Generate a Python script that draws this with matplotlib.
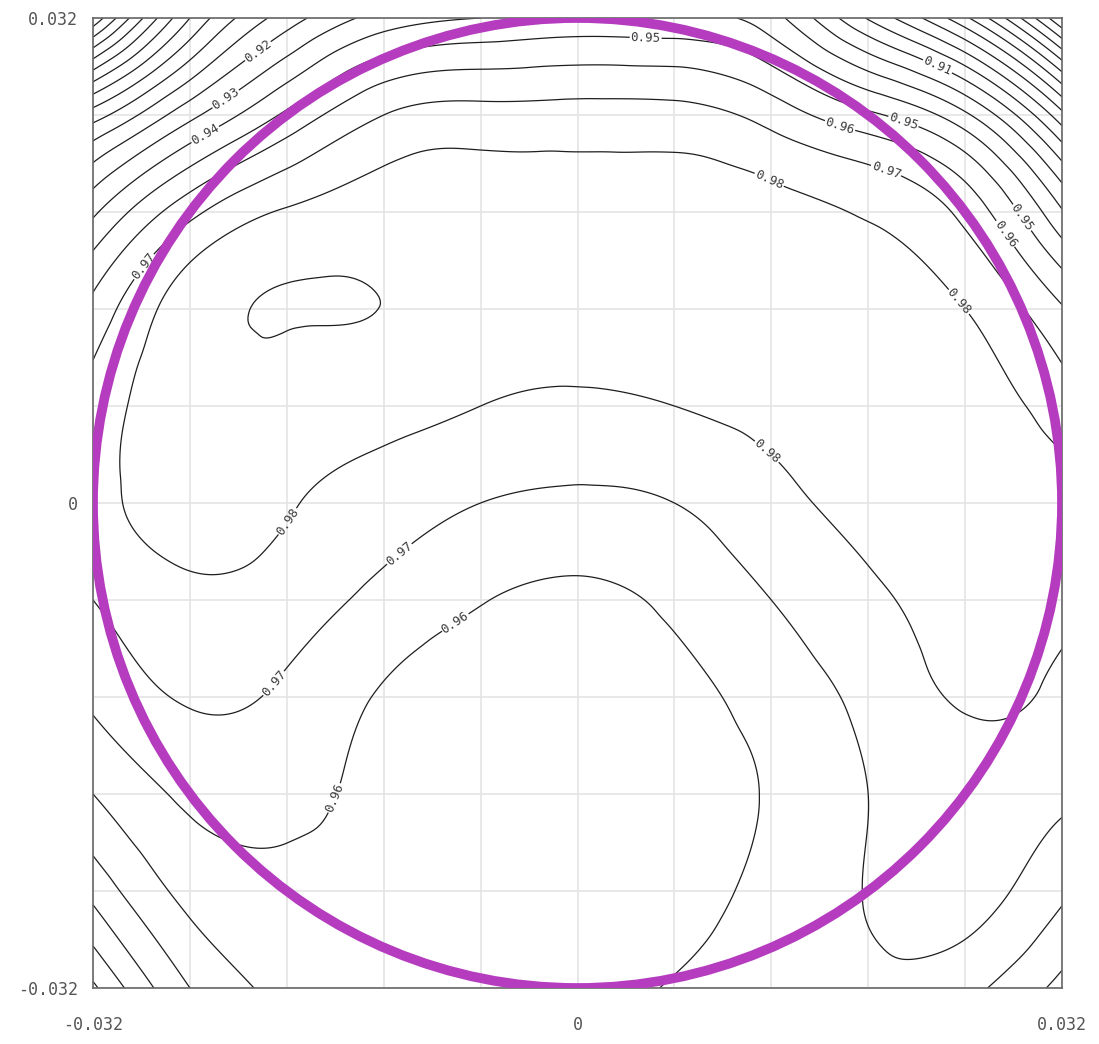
import numpy as np
import matplotlib
matplotlib.use("Agg")
import matplotlib.pyplot as plt
import matplotlib.tri as mtri
from matplotlib.patches import Circle

# sampling nodes, same spacing as the plot grid (0.0064)
node_x = np.linspace(-0.032, 0.032, 11)
node_y = np.linspace(0.032, -0.032, 11)   # top row first

# field values at the nodes, one list per row, top (y=+0.032) to bottom
row_p5 = [0.812, 0.880, 0.915, 0.934, 0.940, 0.943, 0.942, 0.934, 0.899, 0.862, 0.800]
row_p4 = [0.895, 0.927, 0.952, 0.970, 0.9735, 0.9738, 0.9735, 0.966, 0.952, 0.932, 0.883]
row_p3 = [0.938, 0.967, 0.981, 0.985, 0.9855, 0.985, 0.9845, 0.9835, 0.979, 0.967, 0.931]
row_p2 = [0.963, 0.9855, 0.9904, 0.9899, 0.987, 0.986, 0.985, 0.984, 0.983, 0.980, 0.961]
row_p1 = [0.974, 0.987, 0.9869, 0.984, 0.980, 0.978, 0.980, 0.982, 0.984, 0.985, 0.975]
row_0 = [0.976, 0.985, 0.981, 0.975, 0.970, 0.968, 0.970, 0.977, 0.983, 0.985, 0.983]
row_m1 = [0.970, 0.9775, 0.975, 0.967, 0.9605, 0.958, 0.962, 0.970, 0.978, 0.983, 0.982]
row_m2 = [0.962, 0.971, 0.968, 0.959, 0.955, 0.955, 0.957, 0.964, 0.973, 0.981, 0.978]
row_m3 = [0.950, 0.962, 0.963, 0.957, 0.954, 0.953, 0.955, 0.961, 0.970, 0.975, 0.972]
row_m4 = [0.933, 0.953, 0.957, 0.956, 0.953, 0.953, 0.956, 0.963, 0.9705, 0.974, 0.962]
row_m5 = [0.908, 0.940, 0.952, 0.954, 0.953, 0.954, 0.961, 0.965, 0.968, 0.963, 0.947]

levels = np.round(np.arange(78, 100) / 100, 2)
aperture_radius = 0.032
tick_text = ["-0.032", "", "", "", "", "0", "", "", "", "", "0.032"]

# where the contour labels sit (x, y)
label_spots = [
    (-0.0208, 0.0294), (-0.0234, 0.0269), (-0.0247, 0.0245), (-0.0289, 0.0158),
    (0.0045, 0.0307), (0.0239, 0.0291), (0.0175, 0.0254), (0.0215, 0.0251),
    (0.0127, 0.0214), (0.0202, 0.0214), (0.0276, 0.0173), (0.0296, 0.0190),
    (0.0251, 0.0132), (0.0120, 0.0028), (-0.0183, -0.0018), (-0.0119, -0.0032),
    (-0.0203, -0.0117), (-0.0078, -0.0083), (-0.0162, -0.0194),
]

Z = np.array([row_p5, row_p4, row_p3, row_p2, row_p1, row_0,
              row_m1, row_m2, row_m3, row_m4, row_m5])
NX, NY = np.meshgrid(node_x, node_y)
tri = mtri.Triangulation(NX.ravel(), NY.ravel())
interp = mtri.CubicTriInterpolator(tri, Z.ravel(), kind="min_E")

fine = np.linspace(-0.0319999, 0.0319999, 321)
FX, FY = np.meshgrid(fine, fine)
FZ = interp(FX, FY)

fig = plt.figure(figsize=(10.99, 10.44), dpi=100)
ax = fig.add_axes([93 / 1099, 56 / 1044, 969 / 1099, 970 / 1044])

cs = ax.contour(FX, FY, FZ, levels=levels, colors="#1e1e1e", linewidths=0.9)
ax.clabel(cs, manual=label_spots, inline=True, inline_spacing=2, fmt="%.2f",
          fontsize=9, colors="#3a3a3a")
for t in cs.labelTexts:
    t.set_family("DejaVu Sans Mono")

ax.add_patch(Circle((0, 0), aperture_radius, fill=False, ec="#b53cbf", lw=7, zorder=5))

ticks = np.linspace(-0.032, 0.032, 11)
ax.set_xticks(ticks)
ax.set_yticks(ticks)
ax.set_xticklabels(tick_text, family="DejaVu Sans Mono", fontsize=12, color="#555555")
ax.set_yticklabels(tick_text, family="DejaVu Sans Mono", fontsize=12, color="#555555")
ax.tick_params(axis="x", length=0, pad=20)
ax.tick_params(axis="y", length=0, pad=11)
ax.set_xlim(-0.032, 0.032)
ax.set_ylim(-0.032, 0.032)
ax.grid(True, color="#e4e4e4", lw=1.2)
ax.set_axisbelow(True)
for s in ax.spines.values():
    s.set_color("#666666")
    s.set_linewidth(1.2)

fig.savefig("out.png", dpi=100, facecolor="white")
